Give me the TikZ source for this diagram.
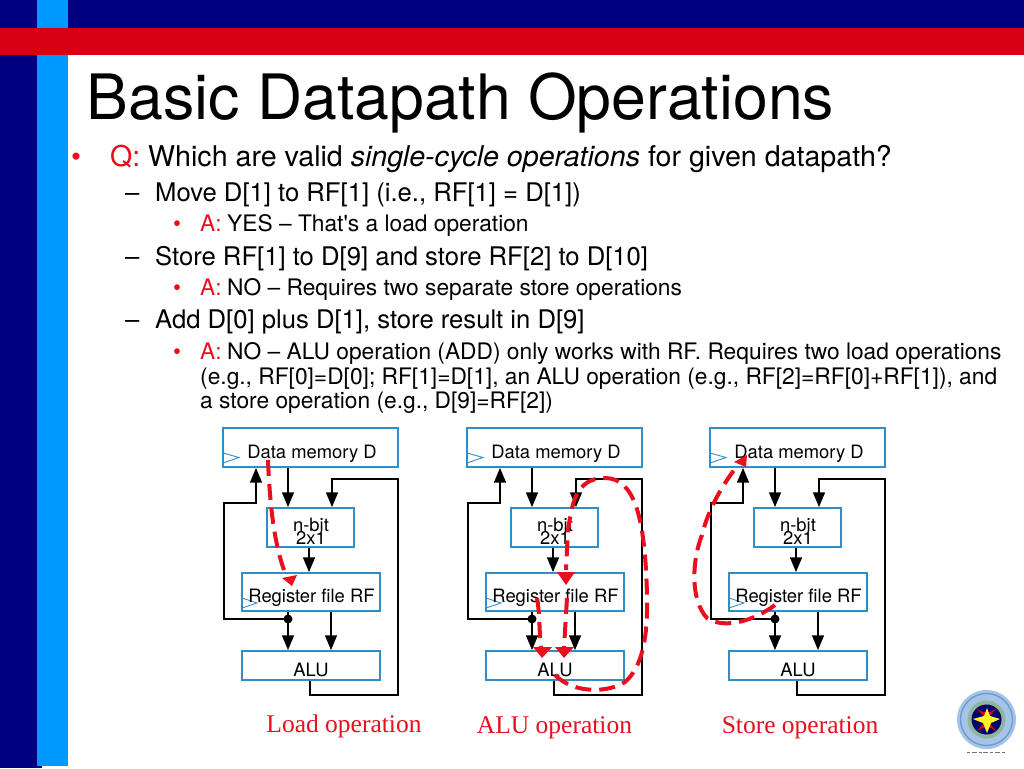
\documentclass[tikz,border=0pt]{standalone}
\usepackage{fontspec}
\setmainfont{TeX Gyre Heros}
\newfontfamily\plainface{TeX Gyre Heros}
\newfontfamily\serifface{Liberation Serif}
\usetikzlibrary{arrows.meta,calc}
\definecolor{navy}{HTML}{000080}
\definecolor{sky}{HTML}{0099FF}
\definecolor{band}{HTML}{D60012}
\definecolor{boxline}{HTML}{2F8FC4}
\definecolor{redline}{HTML}{E8101F}
\definecolor{redtext}{HTML}{E6101E}
\definecolor{ringblue}{HTML}{A6C4E8}
\definecolor{ringdark}{HTML}{6F9AD3}
\definecolor{ringgreen}{HTML}{8FB59A}
\tikzset{
  x=1pt,y=-1pt,
  dpbox/.style={draw=boxline,line width=1.3pt,fill=white,inner sep=0pt},
  dplabel/.style={font=\fontsize{18.4}{20}\selectfont,anchor=base,inner sep=0pt},
  wire/.style={draw=black,line width=2.8pt,-{Triangle[length=15pt,width=11.5pt]}},
  plainwire/.style={draw=black,line width=2.8pt},
  flow/.style={draw=redline,line width=4pt,dash pattern=on 16pt off 8pt},
  flowtip/.style={fill=redline,draw=none},
  clock/.style={draw=boxline,line width=.9pt},
  lvlA/.style={anchor=base west,inner sep=0pt,font=\fontsize{28.6}{30}\selectfont},
  lvlB/.style={anchor=base west,inner sep=0pt,font=\fontsize{25.65}{27}\selectfont},
  lvlC/.style={anchor=base west,inner sep=0pt,font=\fontsize{22.75}{24}\selectfont},
  caption/.style={text=redtext,anchor=base,inner sep=0pt,font=\serifface\fontsize{25.5}{27}\selectfont}
}
\newcommand{\datapath}[2]{%
  \begin{scope}[xshift=#2pt]
    \node[dpbox,minimum width=175pt,minimum height=39pt] (#1D) at (310.5,447.5) {};
    \node[dpbox,minimum width=87pt,minimum height=39pt] (#1M) at (310.5,527.5) {};
    \node[dpbox,minimum width=138pt,minimum height=38pt] (#1R) at (311,592) {};
    \node[dpbox,minimum width=138pt,minimum height=29pt] (#1A) at (311,665.5) {};
    \coordinate (#1jx) at (288,619);
    \coordinate (#1dl) at (256,503);
    \coordinate (#1dk) at (224,503);
    \coordinate (#1jl) at (224,619);
    \coordinate (#1rx) at (331,619);
    \coordinate (#1mx) at (309,600);
    \coordinate (#1ax) at (310,695);
    \coordinate (#1br) at (398,695);
    \coordinate (#1tr) at (398,479);
    \coordinate (#1tl) at (332,479);
    \draw[clock] (223,453) -- (239,457.5) -- (223,463);
    \draw[clock] (242,598) -- (257,603) -- (242,608);
    \draw[wire] (#1D.south -| #1jx) -- (#1M.north -| #1jx);
    \draw[wire] (#1M.south -| #1mx) -- (#1R.north -| #1mx);
    \draw[plainwire] (#1R.south -| #1jx) -- (#1jx);
    \draw[wire] (#1jx) -- (#1A.north -| #1jx);
    \draw[wire] (#1R.south -| #1rx) -- (#1A.north -| #1rx);
    \draw[wire] (#1jx) -- (#1jl) -- (#1dk) -- (#1dl) -- (#1D.south -| #1dl);
    \draw[wire] (#1A.south -| #1ax) -- (#1ax |- #1br) -- (#1br) -- (#1tr) -- (#1tl) -- (#1M.north -| #1tl);
    \fill (#1jx) circle (4.5pt);
    \node[dplabel] (#1Dt) at (312,458) {Data memory D};
    \node[dplabel] (#1Mt) at (311,531) {n-bit};
    \node[dplabel] (#1Mu) at (311,544.5) {2x1};
    \node[dplabel] (#1Rt) at (311.5,602.5) {Register file RF};
    \node[dplabel] (#1At) at (311,676) {ALU};
  \end{scope}}
\begin{document}
\begin{tikzpicture}
\useasboundingbox (0,0) rectangle (1024,768);
\fill[white] (0,0) rectangle (1024,768);
% frame
\fill[navy] (0,0) rectangle (1024,28);
\fill[navy] (0,0) rectangle (37,768);
\fill[navy] (37,766) rectangle (42,768);
\fill[sky] (37,0) rectangle (68,766);
\fill[band] (0,28) rectangle (1024,55);
% title
\node[anchor=base west,inner sep=0pt,font=\fontsize{62.6}{70}\selectfont] (title) at (86.5,119) {Basic Datapath Operations};
% text
\node[lvlA,text=redtext] (b0) at (71,166) {•};
\node[lvlA,text=redtext] (q) at (110,166) {Q:};
\node[lvlA] (q1) at (148,166) {Which are valid \textit{single-cycle operations} for given datapath?};
\node[lvlB] (d1) at (125,201) {–};
\node[lvlB] (t1) at (155,201) {Move D[1] to RF[1] (i.e., RF[1] = D[1])};
\node[lvlC,text=redtext] (b1) at (173,231) {•};
\node[lvlC,text=redtext] (a1) at (200,231) {A:};
\node[lvlC] (r1) at (227,231) {YES – That{\plainface '}s a load operation};
\node[lvlB] (d2) at (125,265) {–};
\node[lvlB] (t2) at (155,265) {Store RF[1] to D[9] and store RF[2] to D[10]};
\node[lvlC,text=redtext] (b2) at (173,295) {•};
\node[lvlC,text=redtext] (a2) at (200,295) {A:};
\node[lvlC] (r2) at (227,295) {NO – Requires two separate store operations};
\node[lvlB] (d3) at (125,328) {–};
\node[lvlB] (t3) at (155,328) {Add D[0] plus D[1], store result in D[9]};
\node[lvlC,text=redtext] (b3) at (173,359) {•};
\node[lvlC,text=redtext] (a3) at (200,359) {A:};
\node[lvlC] (r3) at (227,359) {NO – ALU operation (ADD) only works with RF. Requires two load operations};
\node[lvlC] (r4) at (200,384) {(e.g., RF[0]=D[0]; RF[1]=D[1], an ALU operation (e.g., RF[2]=RF[0]+RF[1]), and};
\node[lvlC] (r5) at (200,408) {a store operation (e.g., D[9]=RF[2])};
% datapaths
\datapath{p}{0}
\datapath{q}{244}
\datapath{s}{487}
% red flows
\coordinate (f1a) at (268,460);
\coordinate (f1b) at (284,570);
\draw[flow] (f1a) .. controls (270,510) and (275,545) .. (f1b);
\fill[flowtip] (292,586) -- (282,578) -- (297,575) -- cycle;
\coordinate (f2a) at (555,675);
\coordinate (f2b) at (566,570);
\draw[flow] (f2a) .. controls (575,695) and (610,692) .. (625,682)
  .. controls (650,660) and (648,610) .. (646,570)
  .. controls (643,520) and (635,478) .. (605,478)
  .. controls (575,478) and (572,505) .. (568,530) -- (f2b);
\fill[flowtip] (566,585) -- (557,572) -- (575,572) -- cycle;
\coordinate (f3a) at (537,598);
\coordinate (f3b) at (541,648);
\draw[flow] (f3a) .. controls (540,615) and (539,630) .. (f3b);
\fill[flowtip] (542,658) -- (533,647) -- (552,647) -- cycle;
\coordinate (f4a) at (567,598);
\coordinate (f4b) at (564,648);
\draw[flow] (f4a) -- (f4b);
\fill[flowtip] (564,658) -- (555,647) -- (574,647) -- cycle;
\coordinate (f5a) at (775,605);
\coordinate (f5b) at (738,465);
\draw[flow] (f5a) .. controls (755,620) and (725,630) .. (707,618)
  .. controls (690,600) and (692,560) .. (702,535)
  .. controls (708,510) and (722,485) .. (f5b);
\fill[flowtip] (747,455) -- (734,462) -- (746,467) -- cycle;
% captions
\node[caption] (c1) at (344,732) {Load operation};
\node[caption] (c2) at (554.5,733) {ALU operation};
\node[caption] (c3) at (800,733) {Store operation};
% logo
\fill[ringblue] (986.5,719.5) circle (29.5pt);
\draw[ringdark,line width=1.4pt] (986.5,719.5) circle (26pt);
\fill[ringgreen] (986.5,719.5) circle (19pt);
\fill[navy!85!black] (986.5,719.5) circle (15pt);
\fill[band] (986.5,719.5) -- (976,708) arc[start angle=227,end angle=313,radius=15.5pt] -- cycle;
\fill[band] (986.5,719.5) -- (977,731) arc[start angle=130,end angle=50,radius=15pt] -- cycle;
\fill[yellow!85!white] (987,708) -- (990,716) -- (1000,719) -- (991,723) -- (987,733) -- (983,723) -- (973,719) -- (984,716) -- cycle;
\draw[black!55,line width=1pt,dash pattern=on 3pt off 1.5pt on 5pt off 2pt] (967,752) -- (1006,752);
\end{tikzpicture}
\end{document}
